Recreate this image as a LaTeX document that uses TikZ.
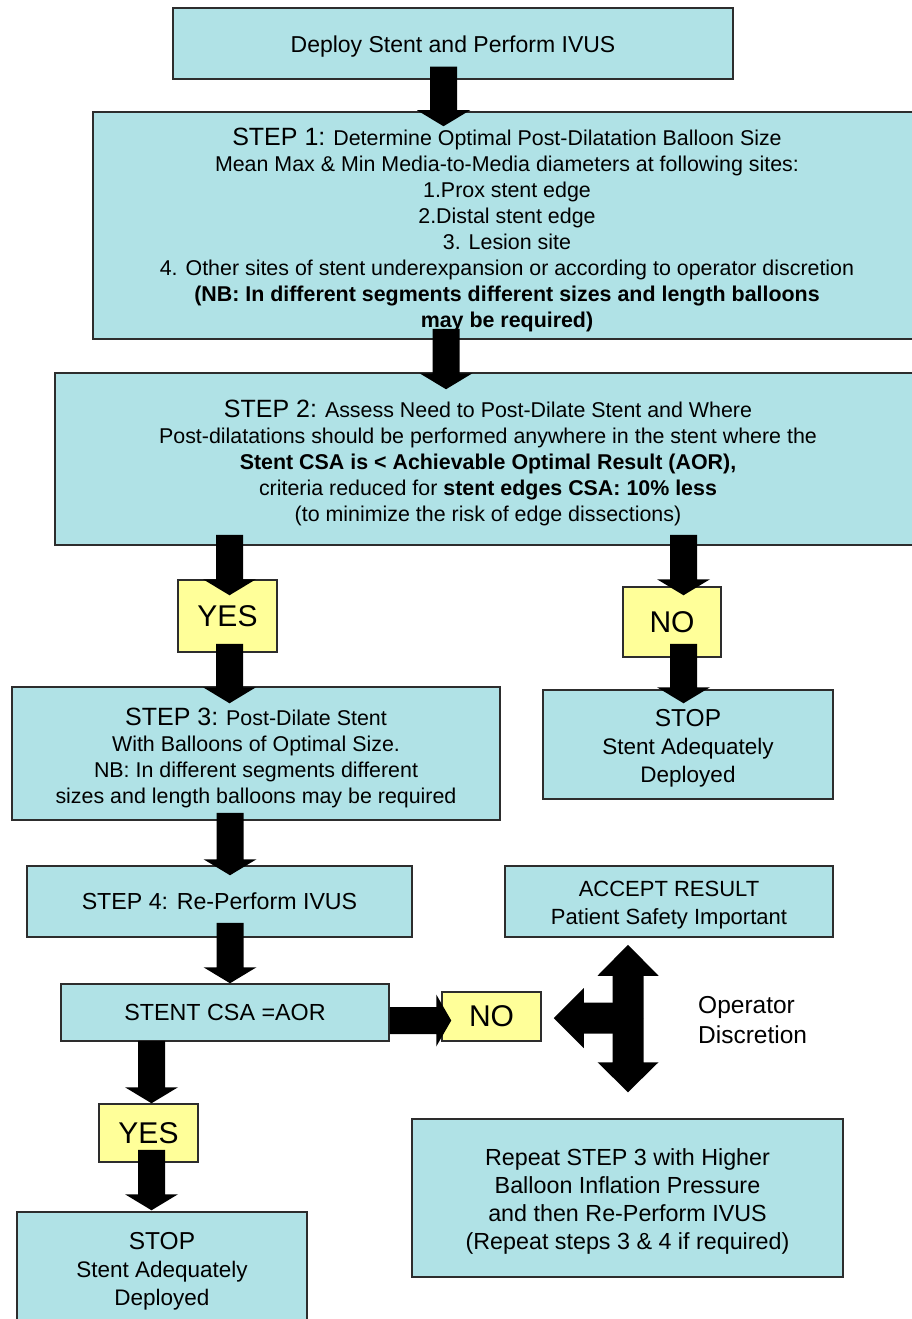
\documentclass[tikz,border=0pt]{standalone}
\usepackage{fontspec}
\setmainfont{Liberation Sans}
\usetikzlibrary{calc}
\definecolor{boxcyan}{RGB}{176,226,230}
\definecolor{boxyellow}{RGB}{255,255,153}
\definecolor{edgegray}{RGB}{45,45,45}
\newcommand\myBody{\fontsize{21.4}{26}\selectfont}
\newcommand\myStep{\fontsize{25}{26}\selectfont}
\newcommand\myStop{\fontsize{22.5}{28}\selectfont}
\newcommand\myStopT{\fontsize{24.5}{28}\selectfont}
\tikzset{
  basebox/.style={draw=edgegray, line width=1.5pt, inner sep=0pt, align=center, text=black},
  cyanbox/.style={basebox, fill=boxcyan},
  yellowbox/.style={basebox, fill=boxyellow, font=\fontsize{30}{32}\selectfont},
  boxtext/.style={align=center, inner sep=0pt, text=black, yshift=-#1},
  fatdown/.style n args={3}{fill=black, to path={let \p1=(\tikztostart), \p2=(\tikztotarget) in
    (\x1-#1,\y1) -- (\x1+#1,\y1) -- (\x1+#1,\y2+#3) -- (\x1+#2,\y2+#3) -- (\x1,\y2)
    -- (\x1-#2,\y2+#3) -- (\x1-#1,\y2+#3) -- cycle}},
  fatup/.style n args={3}{fill=black, to path={let \p1=(\tikztostart), \p2=(\tikztotarget) in
    (\x1-#1,\y1) -- (\x1+#1,\y1) -- (\x1+#1,\y2-#3) -- (\x1+#2,\y2-#3) -- (\x1,\y2)
    -- (\x1-#2,\y2-#3) -- (\x1-#1,\y2-#3) -- cycle}},
  fatright/.style n args={3}{fill=black, to path={let \p1=(\tikztostart), \p2=(\tikztotarget) in
    (\x1,\y1-#1) -- (\x2-#3,\y1-#1) -- (\x2-#3,\y1-#2) -- (\x2,\y1) -- (\x2-#3,\y1+#2)
    -- (\x2-#3,\y1+#1) -- (\x1,\y1+#1) -- cycle}},
  fatleft/.style n args={3}{fill=black, to path={let \p1=(\tikztostart), \p2=(\tikztotarget) in
    (\x1,\y1-#1) -- (\x2+#3,\y1-#1) -- (\x2+#3,\y1-#2) -- (\x2,\y1) -- (\x2+#3,\y1+#2)
    -- (\x2+#3,\y1+#1) -- (\x1,\y1+#1) -- cycle}},
  flowarrow/.style={fatdown={13.5pt}{26.5pt}{16pt}},
}
\begin{document}
\begin{tikzpicture}[x=1pt,y=-1pt]
\useasboundingbox (0,0) rectangle (912,1319);
\clip (0,0) rectangle (912,1319);

\node[cyanbox, minimum width=560pt, minimum height=71pt,
  label={[boxtext=3pt, font=\fontsize{23}{26}\selectfont]center:{Deploy Stent and Perform IVUS}}]
  (deploy) at (453,43.5) {};

\node[cyanbox, minimum width=828pt, minimum height=227pt,
  label={[boxtext=4pt, font=\myBody]center:{{\myStep STEP 1:} Determine Optimal Post-Dilatation Balloon Size\\
  Mean Max \& Min Media-to-Media diameters at following sites:\\
  1.Prox stent edge\\
  2.Distal stent edge\\
  3. Lesion site\\
  4. Other sites of stent underexpansion or according to operator discretion\\
  \textbf{(NB: In different segments different sizes and length balloons}\\
  \textbf{may be required)}}}] (step1) at (507,225.5) {};

\node[cyanbox, minimum width=866pt, minimum height=172pt,
  label={[boxtext=4pt, font=\myBody]center:{{\myStep STEP 2:} Assess Need to Post-Dilate Stent and Where\\
  Post-dilatations should be performed anywhere in the stent where the\\
  \textbf{Stent CSA is < Achievable Optimal Result (AOR),}\\
  criteria reduced for \textbf{stent edges CSA: 10\% less}\\
  (to minimize the risk of edge dissections)}}] (step2) at (488,459) {};

\node[yellowbox, minimum width=99pt, minimum height=72pt] (yes1) at (227.5,616) {YES};
\node[yellowbox, minimum width=98pt, minimum height=70pt] (no1) at (672,622) {NO};

\node[cyanbox, minimum width=488pt, minimum height=133pt,
  label={[boxtext=4pt, font=\myBody]center:{{\myStep STEP 3:} Post-Dilate Stent\\
  With Balloons of Optimal Size.\\
  NB: In different segments different\\
  sizes and length balloons may be required}}] (step3) at (256,753.5) {};

\node[cyanbox, minimum width=290pt, minimum height=109pt,
  label={[boxtext=4pt, font=\myStop]center:{{\myStopT STOP}\\ Stent Adequately\\ Deployed}}]
  (stop1) at (688,744.5) {};

\node[cyanbox, minimum width=385pt, minimum height=71pt, font=\fontsize{23.2}{26}\selectfont] (step4) at (219.5,901.5) {STEP 4: Re-Perform IVUS};

\node[cyanbox, minimum width=328pt, minimum height=71pt,
  label={[boxtext=4pt, font=\fontsize{22}{28}\selectfont]center:{ACCEPT RESULT\\ Patient Safety Important}}]
  (accept) at (669,901.5) {};

\node[cyanbox, minimum width=328pt, minimum height=57pt, font=\fontsize{23.3}{26}\selectfont] (csa) at (225,1012.5) {STENT CSA =AOR};

\node[yellowbox, minimum width=99pt, minimum height=49pt] (no2) at (491.5,1016.5) {NO};
\node[yellowbox, minimum width=99pt, minimum height=58pt] (yes2) at (148.5,1133) {YES};

\node[cyanbox, minimum width=431pt, minimum height=158pt,
  label={[boxtext=3pt, font=\fontsize{23.3}{28}\selectfont]center:{Repeat STEP 3 with Higher\\ Balloon Inflation Pressure\\ and then Re-Perform IVUS\\ (Repeat steps 3 \& 4 if required)}}]
  (repeat) at (627.5,1198) {};

\node[cyanbox, minimum width=290pt, minimum height=118pt, font=\myStop] (stop2) at (162,1271)
 {{\myStopT STOP}\\ Stent Adequately\\ Deployed};

\node[anchor=west, align=left, inner sep=0pt, font=\fontsize{24.5}{30}\selectfont] (opdisc) at (698,1020)
 {Operator\\ Discretion};

% flow arrows
\path[flowarrow] ($(deploy.south)+(-9.5,-13)$) to ($(step1.north)+(-63.5,15)$);
\path[flowarrow] ($(step1.south)+(-61,-11)$) to ($(step2.north)+(-42,17)$);
\path[flowarrow] ($(step2.south)+(-258.5,-11)$) to ($(yes1.north)+(2,16)$);
\path[flowarrow] ($(yes1.south)+(2,-9)$) to ($(step3.north)+(-26.5,17)$);
\path[flowarrow] ($(step2.south)+(195.5,-11)$) to ($(no1.north)+(11.5,9)$);
\path[flowarrow] ($(no1.south)+(11.5,-14)$) to ($(stop1.north)+(-4.5,14)$);
\path[flowarrow] ($(step3.south)+(-26,-8)$) to ($(step4.north)+(10.5,10)$);
\path[flowarrow] ($(step4.south)+(10.5,-15)$) to ($(csa.north)+(5,0)$);
\path[flowarrow] ($(csa.south)+(-73.5,-1)$) to ($(yes2.north)+(3,0)$);
\path[flowarrow] ($(yes2.south)+(3,-13)$) to ($(stop2.north)+(-10.5,-1)$);
\path[fatright={13.5pt}{26pt}{15pt}] ($(csa.east)+(0,8)$) to ($(no2.west)+(10,4)$);

% operator discretion triple arrow
\coordinate (junc) at (628,1018);
\coordinate (uptip) at ($(accept.south)+(-41,7)$);
\coordinate (downtip) at ($(repeat.north)+(0.5,-26)$);
\coordinate (lefttip) at ($(no2.east)+(12,1.5)$);
\path[fatup={15.5pt}{30.5pt}{31pt}] (junc) to (uptip);
\path[fatdown={15.5pt}{30.5pt}{30pt}] (junc) to (downtip);
\path[fatleft={15.5pt}{30pt}{30pt}] (junc) to (lefttip);
\end{tikzpicture}
\end{document}
